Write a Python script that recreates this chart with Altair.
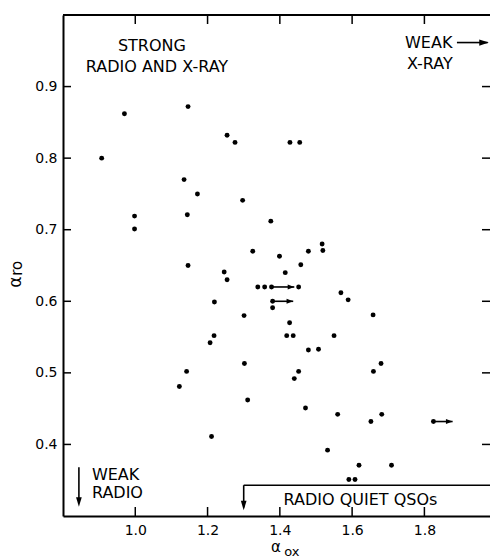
import altair as alt
import pandas as pd

# ---------------- data ----------------
alpha_ox = [0.970, 0.907, 1.146, 1.254, 1.276, 1.428, 1.455, 1.135, 1.172, 1.297,
            0.998, 0.998, 1.144, 1.375, 1.146, 1.325, 1.399, 1.479, 1.517, 1.519,
            1.458, 1.415, 1.246, 1.254, 1.339, 1.358, 1.377, 1.452, 1.380, 1.380,
            1.219, 1.569, 1.589, 1.301, 1.427, 1.419, 1.437, 1.550, 1.658, 1.218,
            1.207, 1.479, 1.507, 1.302, 1.680, 1.659, 1.142, 1.452, 1.440, 1.122,
            1.311, 1.471, 1.560, 1.652, 1.682, 1.211, 1.532, 1.619, 1.709, 1.591,
            1.608, 1.825]
alpha_ro = [0.862, 0.800, 0.872, 0.832, 0.822, 0.822, 0.822, 0.770, 0.750, 0.741,
            0.719, 0.701, 0.721, 0.712, 0.650, 0.670, 0.663, 0.670, 0.680, 0.671,
            0.651, 0.640, 0.641, 0.630, 0.620, 0.620, 0.620, 0.620, 0.600, 0.591,
            0.599, 0.612, 0.602, 0.580, 0.570, 0.552, 0.552, 0.552, 0.581, 0.552,
            0.542, 0.532, 0.533, 0.513, 0.513, 0.502, 0.502, 0.502, 0.492, 0.481,
            0.462, 0.451, 0.442, 0.432, 0.442, 0.411, 0.392, 0.371, 0.371, 0.351,
            0.351, 0.432]

# lower limits on alpha_ox (arrows pointing right)
lim_ox_start = [1.377, 1.380, 1.825]
lim_ox_end = [1.440, 1.437, 1.878]
lim_ro = [0.620, 0.600, 0.432]

x_ticks = [1.0, 1.2, 1.4, 1.6, 1.8]
y_ticks = [0.4, 0.5, 0.6, 0.7, 0.8, 0.9]

center_notes = ["STRONG", "RADIO AND X-RAY", "WEAK", "X-RAY", "RADIO QUIET QSOs"]
center_ox = [1.046, 1.060, 1.812, 1.815, 1.623]
center_ro = [0.956, 0.928, 0.9615, 0.931, 0.323]

left_notes = ["WEAK", "RADIO"]
left_ox = [0.88, 0.88]
left_ro = [0.357, 0.332]

# ---------------- layout ----------------
W, H = 427, 501
X0, X1 = 0.8, 0.8 + 427 / 361.4
Y0, Y1 = 0.3, 1.0
PXX = W / (X1 - X0)
PXY = H / (Y1 - Y0)
FONT = "DejaVu Sans"

xs = alt.Scale(domain=[X0, X1], nice=False, zero=False)
ys = alt.Scale(domain=[Y0, Y1], nice=False, zero=False)

x_axis = alt.Axis(values=x_ticks, format=".1f", ticks=False, tickSize=0, grid=False,
                  domain=True, domainColor="black", domainWidth=2,
                  labelPadding=7, labelFont=FONT, labelFontSize=14, labelColor="black",
                  title=None)
y_axis = alt.Axis(values=y_ticks, format=".1f", ticks=False, tickSize=0, grid=False,
                  domain=True, domainColor="black", domainWidth=2,
                  labelPadding=6, labelFont=FONT, labelFontSize=14, labelColor="black",
                  title=None)


def xq(f):
    return alt.X(f, type="quantitative", scale=xs, axis=x_axis)


def yq(f):
    return alt.Y(f, type="quantitative", scale=ys, axis=y_axis)


pts = pd.DataFrame({"aox": alpha_ox, "aro": alpha_ro})

points = alt.Chart(pts).mark_circle(size=24, color="black", opacity=1).encode(
    x=xq("aox"), y=yq("aro"))

# inward tick marks on all four sides
tl_y = 9 / PXY
tl_x = 8 / PXX
tick_rows = []
for v in x_ticks:
    tick_rows.append({"x": v, "x2": v, "y": Y0, "y2": Y0 + tl_y})
    tick_rows.append({"x": v, "x2": v, "y": Y1, "y2": Y1 - tl_y})
for v in y_ticks:
    tick_rows.append({"x": X0, "x2": X0 + tl_x, "y": v, "y2": v})
    tick_rows.append({"x": X1, "x2": X1 - tl_x, "y": v, "y2": v})
ticks = alt.Chart(pd.DataFrame(tick_rows)).mark_rule(color="black", strokeWidth=1.5).encode(
    x=xq("x"), x2="x2", y=yq("y"), y2="y2")

# top frame line
top = alt.Chart(pd.DataFrame({"x": [X0], "x2": [X1], "y": [Y1], "y2": [Y1]})).mark_rule(
    color="black", strokeWidth=2).encode(x=xq("x"), x2="x2", y=yq("y"), y2="y2")

# limit arrows on points
lim = pd.DataFrame({"x": lim_ox_start, "x2": lim_ox_end, "y": lim_ro})
lim_lines = alt.Chart(lim).mark_rule(color="black", strokeWidth=1.6).encode(
    x=xq("x"), x2="x2", y=yq("y"))
lim_heads = alt.Chart(lim).mark_point(shape="M0,0L-2,-0.75L-2,0.75Z", filled=True,
                                      color="black", opacity=1, size=44, strokeWidth=0).encode(
    x=xq("x2"), y=yq("y"))

# annotation arrows and bracket
ann_lines = pd.DataFrame({
    "x": [1.89, 0.844, 1.30, 1.30],
    "x2": [1.975, 0.844, X1, 1.30],
    "y": [0.9615, 0.368, 0.343, 0.343],
    "y2": [0.9615, 0.318, 0.343, 0.312],
})
ann = alt.Chart(ann_lines).mark_rule(color="black", strokeWidth=1.6).encode(
    x=xq("x"), x2="x2", y=yq("y"), y2="y2")

right_head = alt.Chart(pd.DataFrame({"x": [1.978], "y": [0.9615]})).mark_point(
    shape="M0,0L-2,-0.65L-2,0.65Z", filled=True, color="black", opacity=1, size=90,
    strokeWidth=0).encode(x=xq("x"), y=yq("y"))
down_heads = alt.Chart(pd.DataFrame({"x": [0.844, 1.30], "y": [0.313, 0.308]})).mark_point(
    shape="M0,0L-0.6,-2L0.6,-2Z", filled=True, color="black", opacity=1, size=90,
    strokeWidth=0).encode(x=xq("x"), y=yq("y"))

# texts
ctext = alt.Chart(pd.DataFrame({"x": center_ox, "y": center_ro, "t": center_notes})).mark_text(
    font=FONT, fontSize=16, color="black", align="center", baseline="middle").encode(
    x=xq("x"), y=yq("y"), text="t:N")
ltext = alt.Chart(pd.DataFrame({"x": left_ox, "y": left_ro, "t": left_notes})).mark_text(
    font=FONT, fontSize=16, color="black", align="left", baseline="middle").encode(
    x=xq("x"), y=yq("y"), text="t:N")

# axis titles (alpha with subscript), placed through the scales
xt_a = alt.Chart(pd.DataFrame({"x": [1.389], "y": [0.2567], "t": ["α"]})).mark_text(
    font=FONT, fontSize=15, color="black", align="center", baseline="middle").encode(
    x=xq("x"), y=yq("y"), text="t:N")
xt_s = alt.Chart(pd.DataFrame({"x": [1.433], "y": [0.2497], "t": ["ox"]})).mark_text(
    font=FONT, fontSize=13, color="black", align="center", baseline="middle").encode(
    x=xq("x"), y=yq("y"), text="t:N")
yt_a = alt.Chart(pd.DataFrame({"x": [0.669], "y": [0.6266], "t": ["α"]})).mark_text(
    font=FONT, fontSize=17, color="black", align="center", baseline="middle", angle=270).encode(
    x=xq("x"), y=yq("y"), text="t:N")
yt_s = alt.Chart(pd.DataFrame({"x": [0.672], "y": [0.646], "t": ["ro"]})).mark_text(
    font=FONT, fontSize=15, color="black", align="center", baseline="middle", angle=270).encode(
    x=xq("x"), y=yq("y"), text="t:N")

chart = alt.layer(points, ticks, top, lim_lines, lim_heads, ann, right_head, down_heads,
                  ctext, ltext, xt_a, xt_s, yt_a, yt_s).properties(
    width=W, height=H,
    autosize=alt.AutoSizeParams(type="none"),
    padding={"left": 63, "top": 15, "right": 0, "bottom": 44},
    background="white",
).configure_view(strokeWidth=0)

chart.save("out.html", embed_options={"renderer": "svg", "actions": False})
